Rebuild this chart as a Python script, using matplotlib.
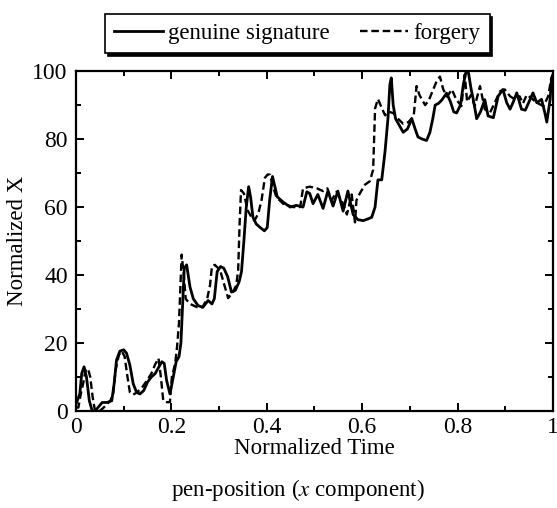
import matplotlib
matplotlib.use("Agg")
import matplotlib.pyplot as plt
from matplotlib.ticker import MultipleLocator

plt.rcParams['font.family'] = ['Liberation Serif', 'DejaVu Serif']
plt.rcParams['mathtext.fontset'] = 'stix'
plt.rcParams['font.size'] = 16

# genuine signature (solid)
genuine_t = [0.000, 0.008, 0.012, 0.017, 0.022, 0.028, 0.034, 0.040, 0.046, 0.055,
             0.065, 0.075, 0.080, 0.085, 0.092, 0.100, 0.106, 0.113, 0.120, 0.127,
             0.134, 0.142, 0.150, 0.158, 0.166, 0.172, 0.180, 0.185, 0.190, 0.197,
             0.204, 0.210, 0.216, 0.220, 0.224, 0.227, 0.232, 0.239, 0.246, 0.256,
             0.266, 0.277, 0.285, 0.290, 0.296, 0.303, 0.310, 0.318, 0.326, 0.334,
             0.342, 0.347, 0.352, 0.357, 0.362, 0.366, 0.371, 0.378, 0.386, 0.395,
             0.401, 0.406, 0.412, 0.417, 0.422, 0.434, 0.449, 0.462, 0.476, 0.484,
             0.490, 0.497, 0.507, 0.518, 0.528, 0.539, 0.549, 0.560, 0.570, 0.581,
             0.591, 0.602, 0.612, 0.620, 0.627, 0.633, 0.641, 0.648, 0.654, 0.658,
             0.661, 0.665, 0.670, 0.678, 0.686, 0.695, 0.704, 0.711, 0.717, 0.726,
             0.735, 0.742, 0.748, 0.753, 0.760, 0.767, 0.777, 0.785, 0.792, 0.798,
             0.806, 0.812, 0.818, 0.823, 0.828, 0.833, 0.840, 0.848, 0.857, 0.864,
             0.875, 0.885, 0.895, 0.903, 0.910, 0.917, 0.924, 0.934, 0.942, 0.952,
             0.958, 0.966, 0.976, 0.983, 0.987, 0.994, 0.997, 1.000]
genuine_x = [2, 5, 11, 13, 10, 3, 0, 0, 1, 2.5,
             2.5, 3, 8, 15, 17.6, 18, 17, 13.5, 8, 5.5,
             5, 6, 8.5, 10, 11, 12.5, 14.5, 14, 9, 5,
             10, 14.5, 16, 20, 33, 42, 43, 36.5, 33, 31,
             30.5, 32.5, 31.5, 33, 41, 42.5, 42, 39.5, 35, 35.5,
             38, 41, 50, 60, 66, 63, 57, 55, 54, 53,
             54, 62, 69, 66, 63, 61.5, 60, 60.5, 60, 64.5,
             64, 61, 63.7, 59.6, 64.7, 60.3, 64.7, 58.8, 64.7, 57.8,
             56.3, 56, 56.5, 57, 60, 68, 68, 76.5, 86, 96,
             98, 90, 86, 84, 82, 83, 86, 83, 80.6, 80,
             79.6, 82, 86, 90, 90.5, 91.5, 93.5, 91, 88, 87.7,
             90, 96, 100, 99.4, 95, 91.6, 86, 88, 91.6, 86.8,
             86.3, 92.6, 94.6, 90.7, 88.8, 91, 93.6, 88.8, 88.5, 91.7,
             93.6, 90.7, 91.7, 87.7, 85, 91.7, 98, 99]

# forgery (dashed)
forgery_t = [0.000, 0.005, 0.010, 0.015, 0.020, 0.025, 0.030, 0.035, 0.040, 0.050,
             0.058, 0.065, 0.072, 0.078, 0.083, 0.090, 0.096, 0.102, 0.108, 0.113,
             0.120, 0.127, 0.138, 0.148, 0.158, 0.166, 0.173, 0.178, 0.183, 0.190,
             0.197, 0.201, 0.208, 0.212, 0.216, 0.2215, 0.226, 0.230, 0.239, 0.253,
             0.265, 0.275, 0.281, 0.285, 0.291, 0.302, 0.312, 0.319, 0.329, 0.336,
             0.340, 0.343, 0.346, 0.352, 0.360, 0.368, 0.374, 0.382, 0.389, 0.396,
             0.402, 0.407, 0.413, 0.420, 0.434, 0.455, 0.470, 0.476, 0.490, 0.505,
             0.518, 0.527, 0.536, 0.546, 0.560, 0.568, 0.578, 0.585, 0.588, 0.595,
             0.606, 0.616, 0.623, 0.627, 0.633, 0.640, 0.648, 0.656, 0.665, 0.675,
             0.686, 0.697, 0.708, 0.714, 0.720, 0.725, 0.732, 0.740, 0.746, 0.756,
             0.763, 0.770, 0.778, 0.788, 0.797, 0.808, 0.815, 0.820, 0.828, 0.836,
             0.847, 0.857, 0.868, 0.878, 0.889, 0.899, 0.910, 0.920, 0.930, 0.937,
             0.945, 0.955, 0.966, 0.980, 0.990, 0.996, 1.000]
forgery_x = [1, 1, 5, 8, 12, 12.5, 10, 4, 0, 0,
             1, 2, 3, 5, 12, 16.5, 17.6, 16, 10, 5.5,
             4.8, 5.4, 6.8, 8.8, 11, 13.7, 15.5, 10, 3, 2.6,
             2.6, 10, 14, 19, 26, 46, 40, 33, 31.5, 30.6,
             30.5, 33, 37, 42.5, 43, 41.5, 36.6, 33.2, 35, 37,
             41.5, 55, 65, 64, 59, 57, 56, 58, 62, 68.6,
             69.6, 69.5, 66, 63, 61, 60, 60, 65.5, 66, 65.5,
             64.7, 65.5, 62, 64.5, 61, 57.8, 63.7, 55.5, 62, 64,
             66.6, 67.6, 71, 89, 91.8, 89.5, 87, 88, 87.7, 86,
             84.5, 85, 86.8, 95.6, 93, 91.7, 90, 91.5, 93.6, 97,
             98.4, 94.6, 92.5, 94.6, 91.7, 89.7, 99, 91, 93, 89.7,
             95.6, 88.8, 87.8, 90.7, 94.1, 94.6, 92.6, 91.7, 92.6, 90.5,
             93, 92, 90.7, 89.7, 92.6, 97.6, 99]

fig = plt.figure(figsize=(5.57, 5.08), dpi=100)
ax = fig.add_axes([0.1364, 0.191, 0.8564, 0.669])

ax.plot(genuine_t, genuine_x, color='black', lw=2.0, label='genuine signature')
ax.plot(forgery_t, forgery_x, color='black', lw=1.7, linestyle=(0, (3.2, 1.6)), label='forgery')

ax.set_xlim(0, 1)
ax.set_ylim(0, 100)
ax.set_xticks([0, 0.2, 0.4, 0.6, 0.8, 1.0])
ax.set_xticklabels(['0', '0.2', '0.4', '0.6', '0.8', '1'])
ax.xaxis.set_minor_locator(MultipleLocator(0.1))
ax.yaxis.set_major_locator(MultipleLocator(20))
ax.yaxis.set_minor_locator(MultipleLocator(10))
ax.tick_params(which='both', direction='in', top=True, right=True, width=1.4, labelsize=17)
ax.tick_params(which='major', length=6)
ax.tick_params(which='minor', length=3.5)
ax.tick_params(axis='y', which='major', pad=6)
ax.tick_params(axis='x', which='major', pad=4)
for s in ax.spines.values():
    s.set_linewidth(1.6)

ax.set_xlabel('Normalized Time', fontsize=16.5, labelpad=0)
ax.set_ylabel('Normalized X', fontsize=16.5, labelpad=3)

fig.text(0.534, 0.035, 'pen-position ($x$ component)', ha='center', va='center', fontsize=16.5)

leg = fig.legend(loc='center', bbox_to_anchor=(0.534, 0.934), ncol=2, fontsize=16.5,
                 frameon=True, fancybox=False, shadow={'color': 'black', 'alpha': 1},
                 handlelength=2.1, handletextpad=0.25, columnspacing=1.3,
                 borderpad=0.4, borderaxespad=0)
leg.get_frame().set_edgecolor('black')
leg.get_frame().set_linewidth(1.2)

plt.savefig('out.png', dpi=100)
